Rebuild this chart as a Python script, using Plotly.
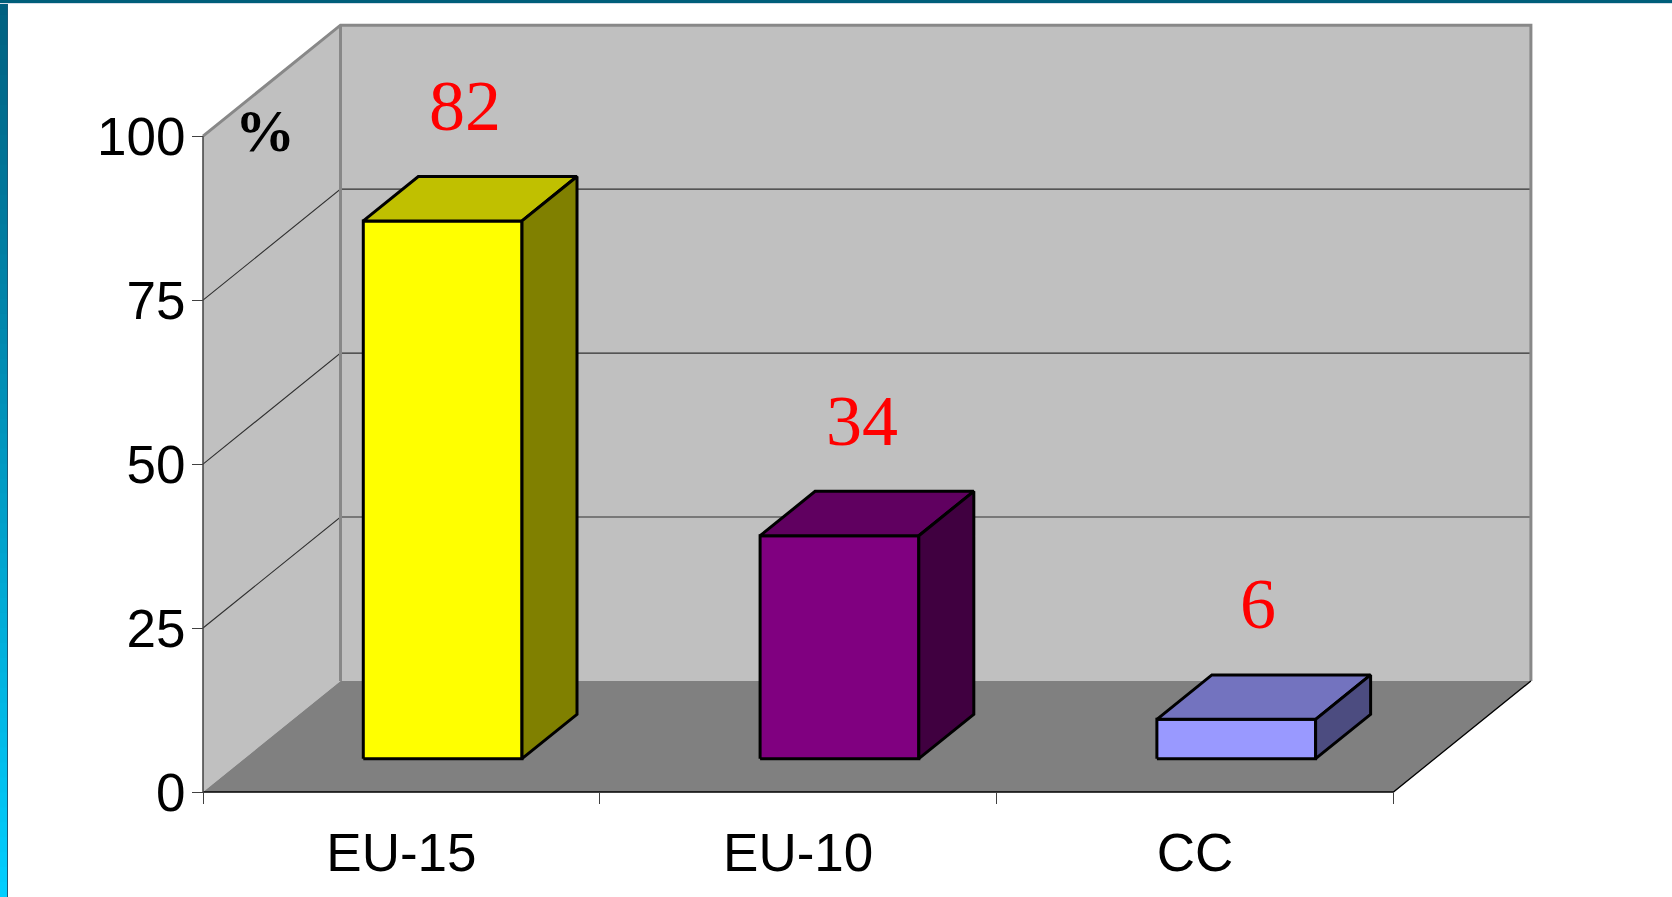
import plotly.graph_objects as go

# ---------------- data ----------------
categories = ["EU-15", "EU-10", "CC"]
values = [82, 34, 6]
y_tick_values = [0, 25, 50, 75, 100]
y_tick_labels = ["0", "25", "50", "75", "100"]
value_labels = ["82", "34", "6"]
unit_label = "%"

# ---------------- style ----------------
front_colors = ["#FFFF00", "#800080", "#9999FF"]
top_colors = ["#C0C000", "#600060", "#7373BF"]
side_colors = ["#808000", "#400040", "#4C4C80"]
WALL = "#C0C0C0"
FLOOR = "#808080"
WALL_EDGE = "#888888"

W, H = 1672, 897
ML, MR, MT, MB = 190, 130, 12, 95          # plot area (slightly larger than the 3D box)
AXIS_X_PX, AXIS_Y_PX = 203, 792            # where the front-left corner (value 0) sits
CAT_PX = 396.8                              # pixels per category
VAL_PX = 6.558                              # pixels per value unit
DEPTH_X_PX, DEPTH_Y_PX = 137.5, 111.0       # oblique depth offset of the box
BAR_W = 0.4
F0, F1 = 0.3, 0.7                           # bar depth span
LABEL_DX, LABEL_DV = 0.16, 22.6

plot_w = W - ML - MR
plot_h = H - MT - MB
n = len(categories)
x_lo = -0.5 - (AXIS_X_PX - ML) / CAT_PX
x_hi = x_lo + plot_w / CAT_PX
y_lo = -((H - MB) - AXIS_Y_PX) / VAL_PX
y_hi = y_lo + plot_h / VAL_PX
dX = DEPTH_X_PX / CAT_PX
dV = DEPTH_Y_PX / VAL_PX
xs0 = -0.5
xe = n - 0.5
vmax = max(y_tick_values)

fig = go.Figure()


def poly(xs, ys, fill, line_color="rgba(0,0,0,0)", lw=0):
    fig.add_trace(go.Scatter(x=xs + [xs[0]], y=ys + [ys[0]], mode="lines", fill="toself",
                             fillcolor=fill, line=dict(color=line_color, width=lw),
                             hoverinfo="skip", showlegend=False))


def seg(xs, ys, color, lw):
    fig.add_trace(go.Scatter(x=xs, y=ys, mode="lines", line=dict(color=color, width=lw),
                             hoverinfo="skip", showlegend=False))


# walls and floor
poly([xs0, xs0, xs0 + dX, xs0 + dX], [0, vmax, vmax + dV, dV], WALL)
poly([xs0 + dX, xe + dX, xe + dX, xs0 + dX], [dV, dV, vmax + dV, vmax + dV], WALL)
poly([xs0, xe, xe + dX, xs0 + dX], [0, 0, dV, dV], FLOOR)

# gridlines
for v in y_tick_values[1:-1]:
    seg([xs0, xs0 + dX, xe + dX], [v, v + dV, v + dV], "#303030", 1.1)

# wall edges
seg([xs0, xs0 + dX, xe + dX, xe + dX], [vmax, vmax + dV, vmax + dV, dV], WALL_EDGE, 3)
seg([xs0 + dX, xs0 + dX], [dV, vmax + dV], WALL_EDGE, 3)
seg([xs0, xe, xe + dX], [0, 0, dV], "#000000", 1.3)
seg([xs0, xs0], [0, vmax], "#404040", 1.5)

# bars
Dx = (F1 - F0) * dX
Dv = (F1 - F0) * dV
for i, v in enumerate(values):
    xl = i - BAR_W / 2 + F0 * dX
    xr = i + BAR_W / 2 + F0 * dX
    yb = F0 * dV
    yt = v + F0 * dV
    poly([xl, xr, xr, xl], [yb, yb, yt, yt], front_colors[i], "#000000", 3)
    poly([xl, xr, xr + Dx, xl + Dx], [yt, yt, yt + Dv, yt + Dv], top_colors[i], "#000000", 3)
    poly([xr, xr + Dx, xr + Dx, xr], [yb, yb + Dv, yt + Dv, yt], side_colors[i], "#000000", 3)

# value labels
for i, v in enumerate(values):
    fig.add_annotation(x=i + LABEL_DX, y=v + LABEL_DV, text=value_labels[i], showarrow=False,
                       xanchor="center", yanchor="middle",
                       font=dict(family="Liberation Serif, Times New Roman, serif", size=72, color="#FF0000"))

fig.add_annotation(x=xs0 + 0.156, y=vmax + 0.8, text="<b>" + unit_label + "</b>", showarrow=False,
                   xanchor="center", yanchor="middle",
                   font=dict(family="Liberation Serif, Times New Roman, serif", size=60, color="#000000"))


# slide frame
def px2x(px):
    return (px - ML) / plot_w


def py2y(py):
    return ((H - MB) - py) / plot_h


shapes = []
NSEG = 60
c0 = (0, 96, 128)
c1 = (0, 206, 255)
for k in range(NSEG):
    t = k / (NSEG - 1)
    c = tuple(round(c0[j] + (c1[j] - c0[j]) * t) for j in range(3))
    shapes.append(dict(type="rect", xref="paper", yref="paper",
                       x0=px2x(0), x1=px2x(7), y0=py2y(H * k / NSEG), y1=py2y(H * (k + 1) / NSEG + 1),
                       fillcolor="rgb(%d,%d,%d)" % c, line=dict(width=0), layer="above"))
shapes.append(dict(type="line", xref="paper", yref="paper", x0=px2x(7.5), x1=px2x(7.5),
                   y0=py2y(0), y1=py2y(H), line=dict(color="#1A5A78", width=1), layer="above"))
shapes.append(dict(type="rect", xref="paper", yref="paper", x0=px2x(0), x1=px2x(W),
                   y0=py2y(0), y1=py2y(3), fillcolor="#005E7A", line=dict(width=0), layer="above"))
shapes.append(dict(type="line", xref="paper", yref="paper", x0=px2x(0), x1=px2x(W),
                   y0=py2y(3.5), y1=py2y(3.5), line=dict(color="#D4DCE8", width=1), layer="above"))

tick_font = dict(family="Liberation Sans, Arial, sans-serif", size=53, color="#000000")
fig.update_layout(
    width=W, height=H,
    margin=dict(l=ML, r=MR, t=MT, b=MB, pad=0),
    paper_bgcolor="#FFFFFF", plot_bgcolor="rgba(0,0,0,0)",
    showlegend=False,
    shapes=shapes,
    xaxis=dict(range=[x_lo, x_hi], tickvals=list(range(n)), ticktext=categories,
               ticks="", showgrid=False, zeroline=False, showline=False,
               anchor="free", position=py2y(AXIS_Y_PX), tickfont=tick_font,
               ticklabelstandoff=25,
               minor=dict(tickvals=[i - 0.5 for i in range(n + 1)], ticks="outside",
                          ticklen=11, tickcolor="#404040", tickwidth=1, showgrid=False),
               fixedrange=True),
    yaxis=dict(range=[y_lo, y_hi], tickvals=y_tick_values, ticktext=y_tick_labels,
               ticks="outside", ticklen=11, tickcolor="#404040", tickwidth=1,
               showgrid=False, zeroline=False, showline=False,
               anchor="free", position=px2x(AXIS_X_PX), tickfont=tick_font,
               ticklabelstandoff=-4, fixedrange=True),
)

fig.write_html("out.html", config={"displayModeBar": False},
               post_script="document.body.style.margin='0';document.body.style.overflow='hidden';")
